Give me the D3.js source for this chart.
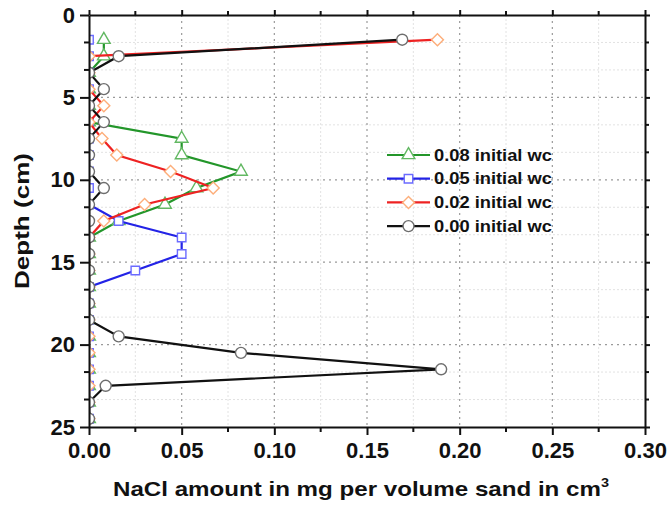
<!DOCTYPE html>
<html>
<head>
<meta charset="utf-8">
<script src="https://cdn.jsdelivr.net/npm/d3@7"></script>
<style>
  body { margin: 0; background: #fff; }
  svg { font-family: "Liberation Sans", Arial, sans-serif; font-weight: bold; }
</style>
</head>
<body>
<svg id="chart" width="670" height="506"></svg>
<script>
// depth of each sample (cm)
const depths = [1.5, 2.5, 3.5, 4.5, 5.5, 6.5, 7.5, 8.5, 9.5, 10.5, 11.5, 12.5,
                13.5, 14.5, 15.5, 16.5, 17.5, 18.5, 19.5, 20.5, 21.5, 22.5, 23.5, 24.5];

// NaCl amount (mg per cm3 sand), one value per depth
const wc008 = [0.008, 0.008, 0, 0, 0, 0, 0.050, 0.050, 0.082, 0.058, 0.041, 0.016,
               0, 0, 0, 0, 0, 0, 0, 0, 0, 0, 0, 0];
const wc005 = [0, 0, 0, 0, 0, 0, 0, 0, 0, 0, 0, 0.016,
               0.050, 0.050, 0.025, 0, 0, 0, 0, 0, 0, 0, 0, 0];
const wc002 = [0.188, 0, 0, 0, 0.008, 0, 0.007, 0.015, 0.044, 0.067, 0.030, 0.008,
               0, 0, 0, 0, 0, 0, 0, 0, 0, 0, 0, 0];
const wc000 = [0.169, 0.016, 0, 0.008, 0, 0.008, 0, 0, 0, 0.008, 0, 0,
               0, 0, 0, 0, 0, 0, 0.016, 0.082, 0.190, 0.009, 0, 0];

const seriesNames = ['0.08 initial wc', '0.05 initial wc', '0.02 initial wc', '0.00 initial wc'];

const xTicks = [0, 0.05, 0.10, 0.15, 0.20, 0.25, 0.30];
const yTicks = [0, 5, 10, 15, 20, 25];

const svg = d3.select('#chart');

const M = { left: 89, right: 645, top: 15, bottom: 427 };

const x = d3.scaleLinear().domain([0, 0.30]).range([M.left, M.right]);
const y = d3.scaleLinear().domain([0, 25]).range([M.top, M.bottom]);

// minor ticks: one between x majors, two between y majors
const xMinor = d3.range(0.025, 0.30, 0.05);
const yMinor = [];
yTicks.slice(0, -1).forEach(t => { yMinor.push(t + 5 / 3, t + 10 / 3); });

// grid
const grid = svg.append('g');
grid.selectAll('.gxm').data(xMinor).join('line')
    .attr('x1', d => x(d)).attr('x2', d => x(d))
    .attr('y1', M.top).attr('y2', M.bottom)
    .attr('stroke', '#e2e2e2').attr('stroke-width', 1).attr('stroke-dasharray', '2,2');
grid.selectAll('.gym').data(yMinor).join('line')
    .attr('y1', d => y(d)).attr('y2', d => y(d))
    .attr('x1', M.left).attr('x2', M.right)
    .attr('stroke', '#e2e2e2').attr('stroke-width', 1).attr('stroke-dasharray', '2,2');
grid.selectAll('.gx').data(xTicks.slice(1, -1)).join('line')
    .attr('x1', d => x(d)).attr('x2', d => x(d))
    .attr('y1', M.top).attr('y2', M.bottom)
    .attr('stroke', '#9a9a9a').attr('stroke-width', 1.2).attr('stroke-dasharray', '2,4');
grid.selectAll('.gy').data(yTicks.slice(1, -1)).join('line')
    .attr('y1', d => y(d)).attr('y2', d => y(d))
    .attr('x1', M.left).attr('x2', M.right)
    .attr('stroke', '#9a9a9a').attr('stroke-width', 1.2).attr('stroke-dasharray', '2,4');

// clip for data
svg.append('clipPath').attr('id', 'plotclip')
    .append('rect')
    .attr('x', M.left).attr('y', M.top)
    .attr('width', M.right - M.left).attr('height', M.bottom - M.top);

const series = [
    { name: seriesNames[0], values: wc008, line: '#23962a', mark: '#62b862', sym: d3.symbolTriangle, size: 70, rot: 0 },
    { name: seriesNames[1], values: wc005, line: '#2323e6', mark: '#6b6bff', sym: d3.symbolSquare, size: 72, rot: 0 },
    { name: seriesNames[2], values: wc002, line: '#ee2222', mark: '#fdae7a', sym: d3.symbolSquare, size: 72, rot: 45 },
    { name: seriesNames[3], values: wc000, line: '#111111', mark: '#6e6e6e', sym: d3.symbolCircle, size: 95, rot: 0 }
];

const lineGen = d3.line().x(d => x(d.v)).y(d => y(d.depth));

const plot = svg.append('g').attr('clip-path', 'url(#plotclip)');
series.forEach(s => {
    const pts = depths.map((dp, i) => ({ depth: dp, v: s.values[i] }));
    const g = plot.append('g');
    g.append('path')
        .datum(pts)
        .attr('d', lineGen)
        .attr('fill', 'none')
        .attr('stroke', s.line)
        .attr('stroke-width', 2.2);
    g.selectAll('path.pt').data(pts).join('path')
        .attr('class', 'pt')
        .attr('d', d3.symbol().type(s.sym).size(s.size))
        .attr('transform', d => `translate(${x(d.v)},${y(d.depth)}) rotate(${s.rot})`)
        .attr('fill', '#fff')
        .attr('stroke', s.mark)
        .attr('stroke-width', 1.4);
});

// axes
const axisG = svg.append('g');
function styleAxis(g) {
    g.selectAll('.domain').attr('stroke', '#111').attr('stroke-width', 2);
    g.selectAll('.tick line').attr('stroke', '#111').attr('stroke-width', 2);
    g.selectAll('.tick text').attr('fill', '#111').style('font-size', '22px').style('font-weight', 'bold');
}

const xAxisB = d3.axisBottom(x).tickValues(xTicks).tickFormat(d3.format('.2f')).tickSize(8).tickSizeOuter(0).tickPadding(7);
const xAxisT = d3.axisTop(x).tickValues(xTicks).tickFormat('').tickSize(5).tickSizeOuter(0);
const yAxisL = d3.axisLeft(y).tickValues(yTicks).tickFormat(d3.format('d')).tickSize(9).tickSizeOuter(0).tickPadding(5);
const yAxisR = d3.axisRight(y).tickValues(yTicks).tickFormat('').tickSize(5).tickSizeOuter(0);

axisG.append('g').attr('transform', `translate(0,${M.bottom})`).call(xAxisB).call(styleAxis)
    .call(g => g.selectAll('.minor').data(xMinor).join('line').attr('class', 'minor')
        .attr('x1', d => x(d)).attr('x2', d => x(d)).attr('y1', 0).attr('y2', 5)
        .attr('stroke', '#111').attr('stroke-width', 2));
axisG.append('g').attr('transform', `translate(0,${M.top})`).call(xAxisT).call(styleAxis)
    .call(g => g.selectAll('.minor').data(xMinor).join('line').attr('class', 'minor')
        .attr('x1', d => x(d)).attr('x2', d => x(d)).attr('y1', 0).attr('y2', -4)
        .attr('stroke', '#111').attr('stroke-width', 2));
axisG.append('g').attr('transform', `translate(${M.left},0)`).call(yAxisL).call(styleAxis)
    .call(g => g.selectAll('.minor').data(yMinor).join('line').attr('class', 'minor')
        .attr('y1', d => y(d)).attr('y2', d => y(d)).attr('x1', 0).attr('x2', -5)
        .attr('stroke', '#111').attr('stroke-width', 2));
axisG.append('g').attr('transform', `translate(${M.right},0)`).call(yAxisR).call(styleAxis)
    .call(g => g.selectAll('.minor').data(yMinor).join('line').attr('class', 'minor')
        .attr('y1', d => y(d)).attr('y2', d => y(d)).attr('x1', 0).attr('x2', 4)
        .attr('stroke', '#111').attr('stroke-width', 2));

// text in the source is drawn a bit wider than the font: stretch to the measured length
function stretchTo(sel, target) {
    const w = sel.node().getComputedTextLength();
    return target / w;
}

// axis titles
const xTitleG = svg.append('g');
const xTitle = xTitleG.append('text')
    .attr('x', 0).attr('y', 0)
    .attr('fill', '#111')
    .style('font-size', '20px');
const xMain = xTitle.append('tspan').text('NaCl amount in mg per volume sand in cm');
xTitle.append('tspan').attr('dy', -9).style('font-size', '12px').text('3');
const kx = stretchTo(xMain, 488);
xTitleG.attr('transform', `translate(113,496) scale(${kx},1)`);

const yTitleG = svg.append('g');
const yTitle = yTitleG.append('text')
    .attr('text-anchor', 'middle')
    .attr('fill', '#111')
    .style('font-size', '21px')
    .text('Depth (cm)');
const ky = stretchTo(yTitle, 136);
yTitleG.attr('transform', `translate(29,${(M.top + M.bottom) / 2}) rotate(-90) scale(${ky},1)`);

// legend
const legend = svg.append('g').attr('transform', 'translate(387,155)');
series.forEach((s, i) => {
    const row = legend.append('g').attr('transform', `translate(0,${i * 23.7})`);
    row.append('line').attr('x1', 0).attr('x2', 43).attr('y1', 0).attr('y2', 0)
        .attr('stroke', s.line).attr('stroke-width', 2.2);
    row.append('path')
        .attr('d', d3.symbol().type(s.sym).size(s.size))
        .attr('transform', `translate(21.5,0) rotate(${s.rot})`)
        .attr('fill', '#fff').attr('stroke', s.mark).attr('stroke-width', 1.4);
    const tg = row.append('g');
    const t = tg.append('text')
        .attr('x', 0).attr('y', 0).attr('dy', '0.35em')
        .attr('fill', '#111')
        .style('font-size', '16.5px')
        .text(s.name);
    tg.attr('transform', `translate(47,0) scale(${stretchTo(t, 118)},1)`);
});
</script>
</body>
</html>
